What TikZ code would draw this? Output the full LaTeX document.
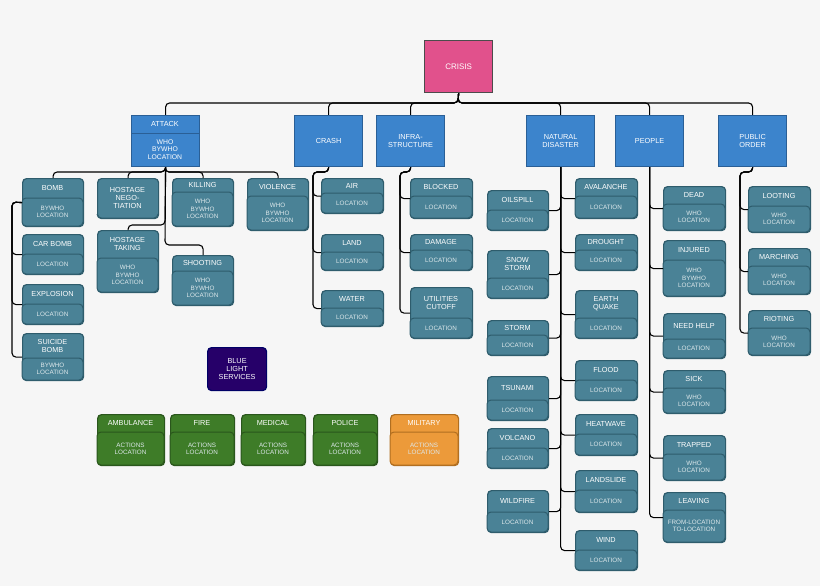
\documentclass[tikz,border=0pt]{standalone}
\usepackage{fontspec}
\setmainfont{Liberation Sans}
\begin{document}
\definecolor{tealf}{HTML}{4A8296}\definecolor{teald}{HTML}{2E5C6C}
\definecolor{bluef}{HTML}{3C84CC}\definecolor{blued}{HTML}{2A5F96}
\definecolor{greenf}{HTML}{3E7C28}\definecolor{greend}{HTML}{2A561C}
\definecolor{orangef}{HTML}{EC9A3A}\definecolor{oranged}{HTML}{B06E20}
\definecolor{bg}{HTML}{F6F6F6}
\newcommand\leaf[9]{%
  \node[draw=#9d, fill=#9f, line width=1.2pt, rounded corners=4pt, anchor=north west, inner sep=0pt,
        minimum width=#4, minimum height=#5+#6] (#1) at (#2,#3) {};
  \draw[draw=#9d, line width=1pt, fill=#9f, rounded corners=4pt] (#2,#3+#5) rectangle (#2+#4,#3+#5+#6);
  \node[ttl] at (#2+#4/2,#3+#5/2) {#7};
  \node[bdy] at (#2+#4/2,#3+#5+#6/2) {#8};}
\begin{tikzpicture}[x=1pt,y=-1pt,
  ttl/.style={text=white, font=\fontsize{7.3}{8}\selectfont, align=center, inner sep=0pt},
  bdy/.style={text=white!82!tealf, font=\fontsize{6.3}{7.2}\selectfont, align=center, inner sep=0pt},
  conn/.style={draw=black, line width=1.1pt, rounded corners=4pt}]
\fill[bg] (0,0) rectangle (820,586);
\useasboundingbox (0,0) rectangle (820,586);
\coordinate (bus) at (458,103);
\node[draw=black!70, fill=magenta!55!purple!75!white, line width=1.2pt, minimum width=68, minimum height=52, inner sep=0pt, anchor=north west, text=white, font=\fontsize{8}{9}\selectfont] (crisis) at (424,40) {CRISIS};
% top level
\node[draw=blued, fill=bluef, line width=1.2pt, minimum width=68, minimum height=51, inner sep=0pt, anchor=north west] (attack) at (131,115) {};
\draw[blued, line width=0.8pt] (131,133) -- (199,133);
\node[ttl] at (165,124) {ATTACK};
\node[ttl, font=\fontsize{6.8}{7.8}\selectfont] at (165,149.5) {WHO\\BYWHO\\LOCATION};
\foreach \n/\x/\t in {crash/294/CRASH, infra/376/INFRA-\\STRUCTURE, natural/526/NATURAL\\DISASTER, people/615/PEOPLE, public/718/PUBLIC\\ORDER}{
  \node[draw=blued, fill=bluef, line width=1.2pt, minimum width=68, minimum height=51, inner sep=0pt, anchor=north west, ttl] (\n) at (\x,115) {\t};}
\foreach \n in {attack,crash,infra,natural,people,public}{\draw[conn] (crisis.south) -- (bus) -| (\n.north);}
% attack children
\leaf{bomb}{22}{178}{61}{20}{28}{BOMB}{BYWHO\\LOCATION}{teal}
\leaf{hnego}{97}{178}{61}{40}{0}{HOSTAGE\\NEGO-\\TIATION}{}{teal}
\leaf{kill}{172}{178}{61}{14}{34}{KILLING}{WHO\\BYWHO\\LOCATION}{teal}
\leaf{viol}{247}{178}{61}{18}{34}{VIOLENCE}{WHO\\BYWHO\\LOCATION}{teal}
\leaf{htake}{97}{230}{61}{28}{34}{HOSTAGE\\TAKING}{WHO\\BYWHO\\LOCATION}{teal}
\leaf{shoot}{172}{255}{61}{16}{34}{SHOOTING}{WHO\\BYWHO\\LOCATION}{teal}
\leaf{cbomb}{22}{234}{61}{20}{20}{CAR BOMB}{LOCATION}{teal}
\leaf{expl}{22}{284}{61}{20}{20}{EXPLOSION}{LOCATION}{teal}
\leaf{sbomb}{22}{333}{61}{25}{22}{SUICIDE\\BOMB}{BYWHO\\LOCATION}{teal}
\foreach \n in {bomb,hnego,kill,viol}{\draw[conn] (attack.south) -- (165,172) -| (\n.north);}
\draw[conn] (attack.south) -- (165,225) -| (htake.north);
\draw[conn] (attack.south) -- (165,245) -| (shoot.north);
\foreach \n in {cbomb,expl,sbomb}{\draw[conn] (bomb.west) -- (12,202) |- (\n.west);}
% crash
\leaf{air}{321}{178}{62}{15}{20}{AIR}{LOCATION}{teal}
\leaf{land}{321}{234}{62}{18}{18}{LAND}{LOCATION}{teal}
\leaf{water}{321}{290}{62}{18}{18}{WATER}{LOCATION}{teal}
\foreach \n in {air,land,water}{\draw[conn] (crash.south) |- (313,172) |- (\n.west);}
% infra
\leaf{blocked}{410}{178}{62}{18}{22}{BLOCKED}{LOCATION}{teal}
\leaf{damage}{410}{234}{62}{16}{20}{DAMAGE}{LOCATION}{teal}
\leaf{util}{410}{287}{62}{31}{20}{UTILITIES\\CUTOFF}{LOCATION}{teal}
\foreach \n in {blocked,damage,util}{\draw[conn] (infra.south) |- (400,172) |- (\n.west);}
% natural
\leaf{oil}{487}{190}{61}{20}{20}{OILSPILL}{LOCATION}{teal}
\leaf{snow}{487}{250}{61}{28}{20}{SNOW\\STORM}{LOCATION}{teal}
\leaf{storm}{487}{320}{61}{15}{20}{STORM}{LOCATION}{teal}
\leaf{tsun}{487}{376}{61}{24}{20}{TSUNAMI}{LOCATION}{teal}
\leaf{volc}{487}{428}{61}{20}{20}{VOLCANO}{LOCATION}{teal}
\leaf{wild}{487}{490}{61}{22}{20}{WILDFIRE}{LOCATION}{teal}
\leaf{aval}{575}{178}{62}{18}{22}{AVALANCHE}{LOCATION}{teal}
\leaf{drought}{575}{234}{62}{16}{20}{DROUGHT}{LOCATION}{teal}
\leaf{quake}{575}{290}{62}{28}{20}{EARTH\\QUAKE}{LOCATION}{teal}
\leaf{flood}{575}{360}{62}{20}{20}{FLOOD}{LOCATION}{teal}
\leaf{heat}{575}{414}{62}{20}{21}{HEATWAVE}{LOCATION}{teal}
\leaf{lslide}{575}{470}{62}{20}{22}{LANDSLIDE}{LOCATION}{teal}
\leaf{wind}{575}{530}{62}{20}{20}{WIND}{LOCATION}{teal}
\foreach \n in {oil,snow,storm,tsun,volc,wild}{\draw[conn] (natural.south) |- (\n.east);}
\foreach \n in {aval,drought,quake,flood,heat,lslide,wind}{\draw[conn] (natural.south) |- (\n.west);}
% people
\leaf{dead}{663}{186}{62}{18}{26}{DEAD}{WHO\\LOCATION}{teal}
\leaf{inj}{663}{240}{62}{20}{36}{INJURED}{WHO\\BYWHO\\LOCATION}{teal}
\leaf{help}{663}{313}{62}{26}{19}{NEED HELP}{LOCATION}{teal}
\leaf{sick}{663}{370}{62}{18}{25}{SICK}{WHO\\LOCATION}{teal}
\leaf{trap}{663}{435}{62}{19}{26}{TRAPPED}{WHO\\LOCATION}{teal}
\leaf{leave}{663}{492}{62}{18}{32}{LEAVING}{FROM-LOCATION\\TO-LOCATION}{teal}
\foreach \n in {dead,inj,help,sick,trap,leave}{\draw[conn] (people.south) |- (\n.west);}
% public
\leaf{loot}{748}{186}{62}{20}{26}{LOOTING}{WHO\\LOCATION}{teal}
\leaf{march}{748}{248}{62}{18}{28}{MARCHING}{WHO\\LOCATION}{teal}
\leaf{riot}{748}{310}{62}{18}{27}{RIOTING}{WHO\\LOCATION}{teal}
\foreach \n in {loot,march,riot}{\draw[conn] (public.south) |- (740,172) |- (\n.west);}
% blue light
\node[draw=black!60!blue, fill=blue!45!black!80!purple, line width=1.2pt, rounded corners=4pt, minimum width=59, minimum height=43, inner sep=0pt, anchor=north west, ttl] (blue) at (207,347) {BLUE\\LIGHT\\SERVICES};
\leaf{amb}{97}{414}{67}{18}{33}{AMBULANCE}{ACTIONS\\LOCATION}{green}
\leaf{fire}{170}{414}{64}{18}{33}{FIRE}{ACTIONS\\LOCATION}{green}
\leaf{med}{241}{414}{64}{18}{33}{MEDICAL}{ACTIONS\\LOCATION}{green}
\leaf{pol}{313}{414}{64}{18}{33}{POLICE}{ACTIONS\\LOCATION}{green}
\leaf{mil}{390}{414}{68}{18}{33}{MILITARY}{ACTIONS\\LOCATION}{orange}
\end{tikzpicture}
\end{document}
